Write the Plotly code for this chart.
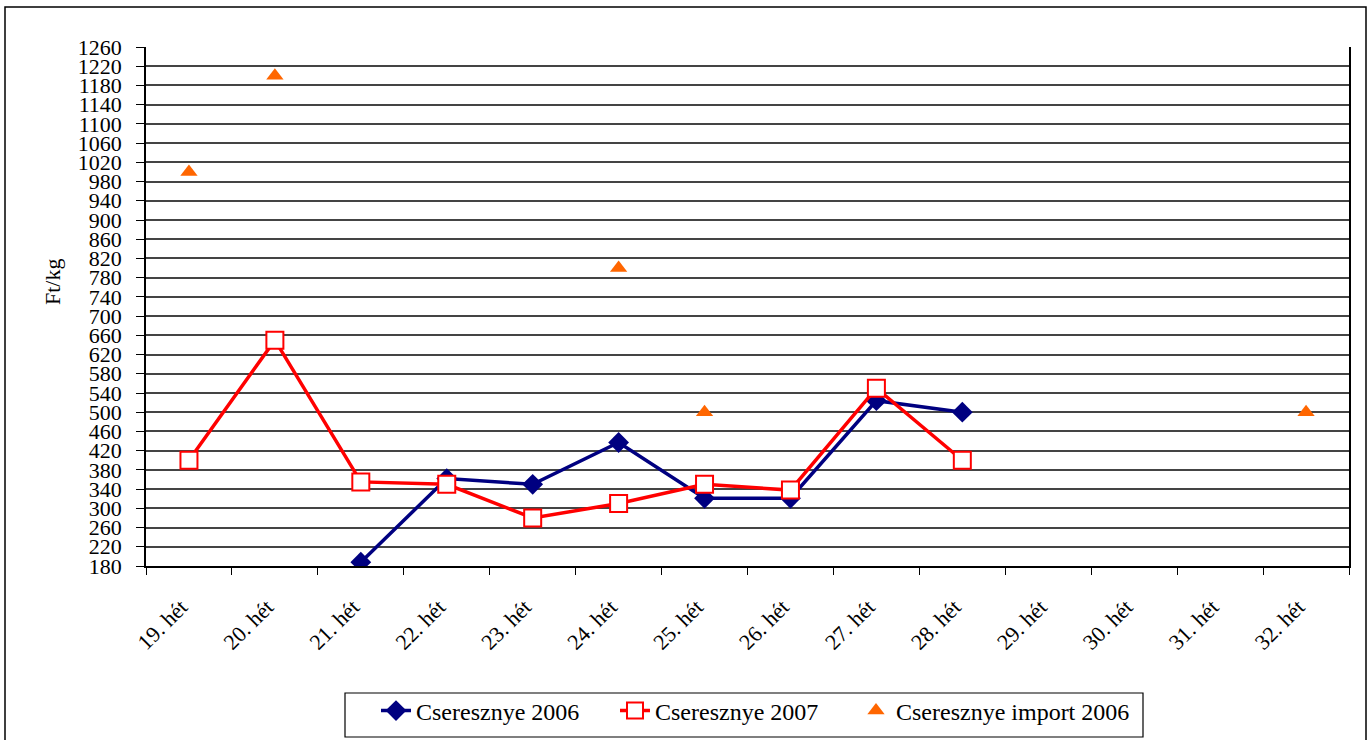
import plotly.graph_objects as go

weeks = ["19. hét", "20. hét", "21. hét", "22. hét", "23. hét", "24. hét", "25. hét",
         "26. hét", "27. hét", "28. hét", "29. hét", "30. hét", "31. hét", "32. hét"]
cseresznye_2006 = [None, None, 188, 362, 350, 437, 321, 321, 524, 500, None, None, None, None]
cseresznye_2007 = [400, 650, 355, 350, 280, 310, 350, 338, 550, 400, None, None, None, None]
import_2006 = [1000, 1200, None, None, None, 800, 500, None, None, None, None, None, None, 500]

FONT = "Liberation Serif"

fig = go.Figure()
fig.add_trace(go.Scatter(
    x=weeks, y=cseresznye_2006, name="Cseresznye 2006", mode="lines+markers",
    line=dict(color="#000080", width=3.5),
    marker=dict(symbol="diamond", size=16, color="#000080"),
    legend="legend",
))
fig.add_trace(go.Scatter(
    x=weeks, y=cseresznye_2007, name="Cseresznye 2007", mode="lines+markers",
    line=dict(color="#FF0000", width=3.5),
    marker=dict(symbol="square", size=17, color="white", line=dict(color="#FF0000", width=2)),
    legend="legend2",
))
fig.add_trace(go.Scatter(
    x=weeks, y=import_2006, name="Cseresznye import 2006", mode="markers",
    marker=dict(symbol="triangle-up", size=15, color="#FF6600"),
    legend="legend3",
))

L, R, T, B = 146, 23, 47, 174
W, H = 1372, 740
pw, ph = W - L - R, H - T - B

def px(xp):
    return (xp - L) / pw

def py(yp):
    return (H - B - yp) / ph

def leg(xpix):
    return dict(
        orientation="h", x=px(xpix), y=(H - 711) / H, yref="container",
        xanchor="left", yanchor="middle",
        borderwidth=0, bgcolor="rgba(0,0,0,0)",
        font=dict(family=FONT, size=24, color="black"),
    )

fig.update_layout(
    width=W, height=H,
    margin=dict(l=L, r=R, t=T, b=B, autoexpand=False),
    paper_bgcolor="white", plot_bgcolor="white",
    font=dict(family=FONT, size=20, color="black"),
    showlegend=True,
    legend=leg(376),
    legend2=leg(615),
    legend3=leg(856),
    xaxis=dict(
        type="category", categoryorder="array", categoryarray=weeks,
        range=[-0.5, 13.5], tickson="boundaries", ticks="outside", ticklen=7,
        tickcolor="black", tickangle=-45, showgrid=False, automargin=False,
        showline=True, linecolor="black", linewidth=1.5,
        tickfont=dict(family=FONT, size=22), ticklabelstandoff=10,
        ticksuffix="\u00a0\u00a0",
    ),
    yaxis=dict(
        range=[180, 1260], tick0=180, dtick=40, ticks="outside", ticklen=8,
        tickcolor="black", showgrid=True, gridcolor="#444444", gridwidth=1.5,
        showline=True, linecolor="black", linewidth=1.5, mirror=True, automargin=False,
        zeroline=False, tickfont=dict(family=FONT, size=22), ticklabelstandoff=10,
    ),
    annotations=[dict(
        text="Ft/kg", x=px(52), y=py(282), xref="paper", yref="paper",
        xanchor="center", yanchor="middle",
        showarrow=False, textangle=-90, font=dict(family=FONT, size=22),
    )],
    shapes=[
        dict(
            type="rect", xref="paper", yref="paper",
            x0=px(5), x1=px(1366), y0=py(760), y1=py(7),
            line=dict(color="black", width=1.5), fillcolor="rgba(0,0,0,0)", layer="below",
        ),
        dict(
            type="rect", xref="paper", yref="paper",
            x0=px(345), x1=px(1143), y0=py(737), y1=py(693),
            line=dict(color="black", width=1.2), fillcolor="white", layer="below",
        ),
    ],
)

fig.write_html("out.html", config={"displayModeBar": False},
               post_script="document.body.style.margin='0';")
